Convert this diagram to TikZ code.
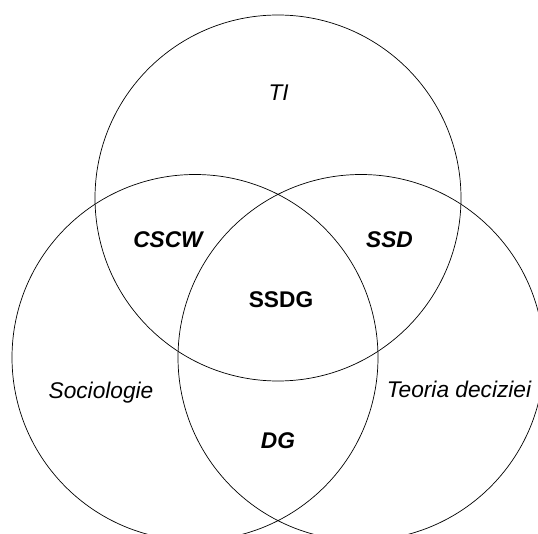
\documentclass[tikz,border=0pt]{standalone}
\usepackage{fontspec}
\setmainfont{Liberation Sans}
\begin{document}
\begin{tikzpicture}[x=1pt,y=-1pt,
  ring/.style={draw=black,line width=0.7pt,circle,minimum size=366pt,inner sep=0pt},
  field/.style={font=\fontsize{22.7}{26}\selectfont\itshape,inner sep=0pt},
  overlap/.style={font=\fontsize{22.7}{26}\selectfont\bfseries\itshape,inner sep=0pt},
  core/.style={font=\fontsize{22.7}{26}\selectfont\bfseries,inner sep=0pt}]
  \clip (0,0) rectangle (538,534);
  \fill[white] (0,0) rectangle (538,534);
  % the three sets
  \node[ring] (ti)  at (278,198) {};
  \node[ring] (soc) at (195,357.5) {};
  \node[ring] (dec) at (361,357.5) {};
  % set names
  \node[field] (tiL)  at (278.7,92.7) {TI};
  \node[field] (socL) at (101,393) {Sociologie};
  \node[field] (decL) at (459,389.5) {Teoria deciziei};
  % pairwise overlaps
  \node[overlap] (cscw) at (168,240) {CSCW};
  \node[overlap] (ssd)  at (389.5,240) {SSD};
  \node[overlap] (dg)   at (278,441) {DG};
  % common core
  \node[core] (ssdg) at (281,299.6) {SSDG};
\end{tikzpicture}
\end{document}
